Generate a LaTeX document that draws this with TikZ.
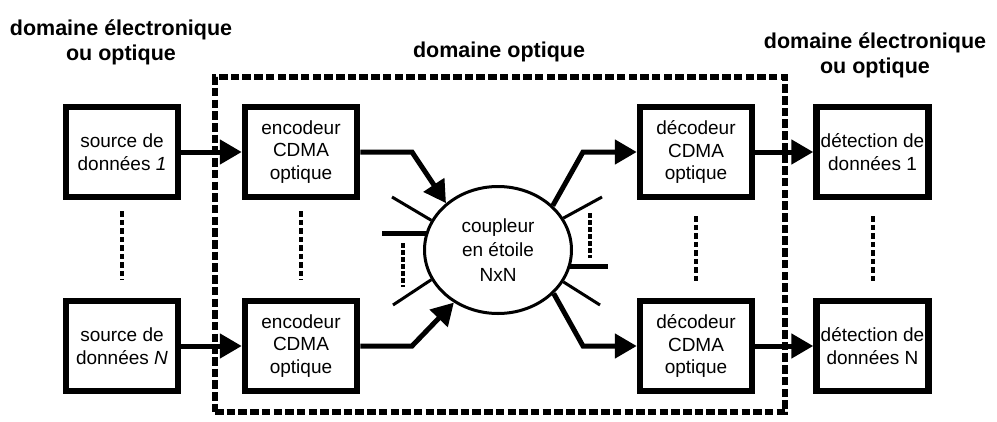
\documentclass[tikz,border=0pt]{standalone}
\usepackage{fontspec}
\setmainfont{Liberation Sans}
\usetikzlibrary{arrows.meta,shapes.geometric}
\begin{document}
\begin{tikzpicture}[x=1pt,y=-1pt,
  box/.style={draw, line width=6.5pt, minimum width=112pt, minimum height=90pt, inner sep=0pt, align=center, font=\fontsize{19}{22.5}\selectfont},
  head/.style={inner sep=0pt, align=center, font=\bfseries\fontsize{21.5}{25}\selectfont},
  flow/.style={line width=5pt, -{Triangle[length=22pt,width=24pt]}},
  stub/.style={line width=3pt},
  thickstub/.style={line width=5pt},
  vdots/.style={line width=4pt, dash pattern=on 5.5pt off 3pt},
  smalldots/.style={line width=3.5pt, dash pattern=on 4.5pt off 2.5pt},
  frame/.style={draw, line width=5.5pt, dash pattern=on 8.5pt off 3.2pt},
]
\useasboundingbox (0,0) rectangle (997,421);

% optical domain frame
\node[frame, minimum width=570pt, minimum height=335pt, inner sep=0pt] (opt) at (500,244.5) {};

% headings
\node[head] (hl) at (121,42) {domaine électronique\\ou optique};
\node[head, anchor=base] (hm) at (499,57) {domaine optique};
\node[head] (hr) at (875,55) {domaine électronique\\ou optique};

% boxes
\node[box] (src1) at (122,152) {source de\\données \textit{1}};
\node[box] (srcN) at (122,346) {source de\\données \textit{N}};
\node[box] (enc1) at (301,152) {encodeur\\CDMA\\optique};
\node[box] (encN) at (301,346) {encodeur\\CDMA\\optique};
\node[box] (dec1) at (696,152) {décodeur\\CDMA\\optique};
\node[box] (decN) at (696,346) {décodeur\\CDMA\\optique};
\node[box] (det1) at (872.5,152) {détection de\\données 1};
\node[box] (detN) at (872.5,346) {détection de\\données N};

% coupler
\node[ellipse, draw, line width=3pt, minimum width=147pt, minimum height=127pt, inner sep=0pt, align=center, font=\fontsize{19}{24.5}\selectfont] (cpl) at (498,250) {coupleur\\en étoile\\NxN};

% vertical dashed lines between rows
\draw[vdots, shorten <=11pt, shorten >=18pt] (src1.south) -- (srcN.north);
\draw[vdots, shorten <=11pt, shorten >=18pt] (enc1.south) -- (encN.north);
\draw[vdots, shorten <=16pt, shorten >=14pt] (dec1.south) -- (decN.north);
\draw[vdots, shorten <=16pt, shorten >=14pt] (det1.south) -- (detN.north);

% main connectors
\draw[flow] (src1) -- (enc1);
\draw[flow] (srcN) -- (encN);
\draw[flow] (dec1) -- (det1);
\draw[flow] (decN) -- (detN);
\draw[flow] (enc1.east) -- (412,152) -- (cpl.138);
\draw[flow] (encN.east) -- (412,346) -- (cpl.230);
\draw[flow] (cpl.39) -- (583,152) -- (dec1.west);
\draw[flow] (cpl.-38) -- (583,346) -- (decN.west);

% unused ports of the coupler
\coordinate (sl1) at (392,197);
\coordinate (sl3) at (393,305);
\coordinate (sr1) at (602,197);
\coordinate (sr3) at (600,305);
\draw[stub] (cpl.156) -- (sl1);
\draw[stub] (cpl.204) -- (sl3);
\draw[stub] (cpl.26) -- (sr1);
\draw[stub] (cpl.-26) -- (sr3);
\draw[thickstub] (cpl.167) -- ++(-44,0);
\draw[thickstub] (cpl.-13) -- ++(38,0);
\draw[smalldots] (403,243) -- (403,287);
\draw[smalldots] (590,213) -- (590,258);
\end{tikzpicture}
\end{document}
